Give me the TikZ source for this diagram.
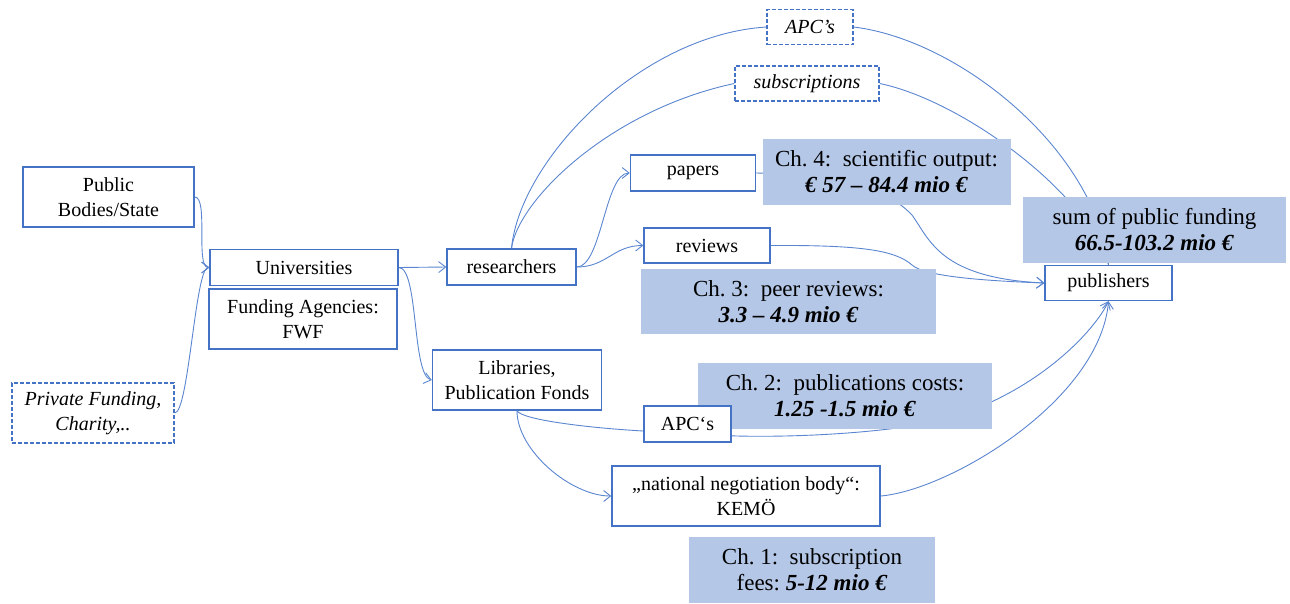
\documentclass[tikz,border=0pt]{standalone}
\usepackage{fontspec}
\setmainfont{Liberation Serif}
\usetikzlibrary{arrows.meta}
\definecolor{bl}{HTML}{4472C4}
\definecolor{lb}{HTML}{B4C7E7}
\definecolor{ln}{HTML}{5A85D0}
\newcommand{\bfit}[1]{\textbf{\textit{#1}}}
\pgfdeclarelayer{edges}
\pgfdeclarelayer{fills}
\pgfsetlayers{edges,fills,main}
\frenchspacing
\begin{document}
\begin{tikzpicture}[x=1pt,y=-1pt,
  wbox/.style={draw=bl, line width=1.4pt, fill=white, inner sep=0pt, align=center, font=\fontsize{20}{25}\selectfont},
  dbox/.style={wbox, dash pattern=on 4pt off 2pt, font=\fontsize{20}{25}\selectfont\itshape},
  cbox/.style={fill=lb, draw=none, inner sep=0pt, align=center, font=\fontsize{23}{26}\selectfont},
  conn/.style={draw=ln, line width=0.9pt},
  arr/.style={conn, -{Straight Barb[length=7pt,width=11pt]}},
]
\useasboundingbox (0,0) rectangle (1290,603);

% white boxes (top layer)
\node[wbox, minimum width=171pt, minimum height=60pt] (pub) at (108.5,197) {Public\\Bodies/State};
\node[dbox, minimum width=162pt, minimum height=60pt] (priv) at (93,413) {Private Funding,\\Charity,..};
\node[wbox, minimum width=188pt, minimum height=36pt] (uni) at (304,267.5) {Universities};
\node[wbox, minimum width=188pt, minimum height=60pt] (fwf) at (303,319) {Funding Agencies:\\FWF};
\node[wbox, minimum width=129pt, minimum height=36pt] (res) at (511.5,267) {researchers};
\node[wbox, minimum width=125pt, minimum height=36pt] (pap) at (693,173) {papers};
\node[wbox, minimum width=126pt, minimum height=35pt] (rev) at (707,245.5) {reviews};
\node[dbox, minimum width=86pt, minimum height=35pt] (apc1) at (810,27) {APC’s};
\node[dbox, minimum width=144pt, minimum height=35pt] (subs) at (807,83.5) {subscriptions};
\node[wbox, minimum width=127pt, minimum height=35pt] (publ) at (1108.5,283) {publishers};
\node[wbox, minimum width=169pt, minimum height=60pt] (lib) at (517,380) {Libraries,\\Publication Fonds};
\node[wbox, minimum width=87pt, minimum height=36pt] (apc2) at (687.5,424) {APC‘s};
\node[wbox, minimum width=268pt, minimum height=60pt] (kemo) at (746,496) {„national negotiation body“:\\KEMÖ};

% filled boxes (middle layer)
\begin{pgfonlayer}{fills}
\node[cbox, minimum width=248pt, minimum height=66pt] (ch4) at (886.5,172) {Ch.\ 4:\ \ scientific output:\\\bfit{€ 57 – 84.4 mio €}};
\node[cbox, minimum width=295pt, minimum height=65pt] (ch3) at (788.5,301.5) {Ch.\ 3:\ \ peer reviews:\\\bfit{3.3 – 4.9 mio €}};
\node[cbox, minimum width=294pt, minimum height=66pt] (ch2) at (845,396) {Ch.\ 2:\ \ publications costs:\\\bfit{1.25 -1.5 mio €}};
\node[cbox, minimum width=263pt, minimum height=66pt] (sum) at (1154.5,230) {sum of public funding\\\bfit{66.5-103.2 mio €}};
\node[cbox, minimum width=246pt, minimum height=66pt] (ch1) at (812,570) {Ch.\ 1:\ \ subscription\\fees: \bfit{5-12 mio €}};
\end{pgfonlayer}

% connectors (bottom layer)
\begin{pgfonlayer}{edges}
\coordinate (k1) at (912,215);
\coordinate (k2) at (912,265);
\coordinate (k3) at (950,418);
\draw[arr] (pub.east) .. controls +(14,0) and +(-14,0) .. (uni.west);
\draw[arr] (priv.east) .. controls +(14,0) and +(-14,0) .. (uni.west);
\draw[arr] (uni.east) -- (res.west);
\draw[arr] (uni.east) .. controls +(20,0) and +(-20,-5) .. (lib.west);
\draw[arr] (res.east) .. controls +(25,0) and +(-25,0) .. (pap.west);
\draw[arr] (res.east) .. controls +(30,0) and +(-30,0) .. (rev.west);
\draw[conn] (res.north) .. controls (520,160) and (640,35) .. (apc1.west);
\draw[conn] (res.north) .. controls (518,200) and (610,110) .. (subs.west);
\draw[conn] (apc1.east) .. controls (960,40) and (1095,150) .. (publ.north);
\draw[conn] (subs.east) .. controls (960,100) and (1085,190) .. (publ.north);
\draw[arr] (pap.east) .. controls (850,175) and (890,192) .. (k1) .. controls (930,240) and (940,278) .. (publ.west);
\draw[arr] (rev.east) .. controls (860,245) and (895,250) .. (k2) .. controls (925,277) and (990,281) .. (publ.west);
\draw[conn] (lib.south) .. controls (522,420) and (590,428) .. (apc2.189);
\draw[arr] (apc2.345) .. controls (800,438) and (900,432) .. (k3) .. controls (1040,390) and (1095,330) .. (publ.south);
\draw[arr] (lib.south) .. controls +(0,40) and +(-40,0) .. (kemo.west);
\draw[arr] (kemo.east) .. controls (950,490) and (1100,400) .. (publ.south);
\end{pgfonlayer}
\end{tikzpicture}
\end{document}
